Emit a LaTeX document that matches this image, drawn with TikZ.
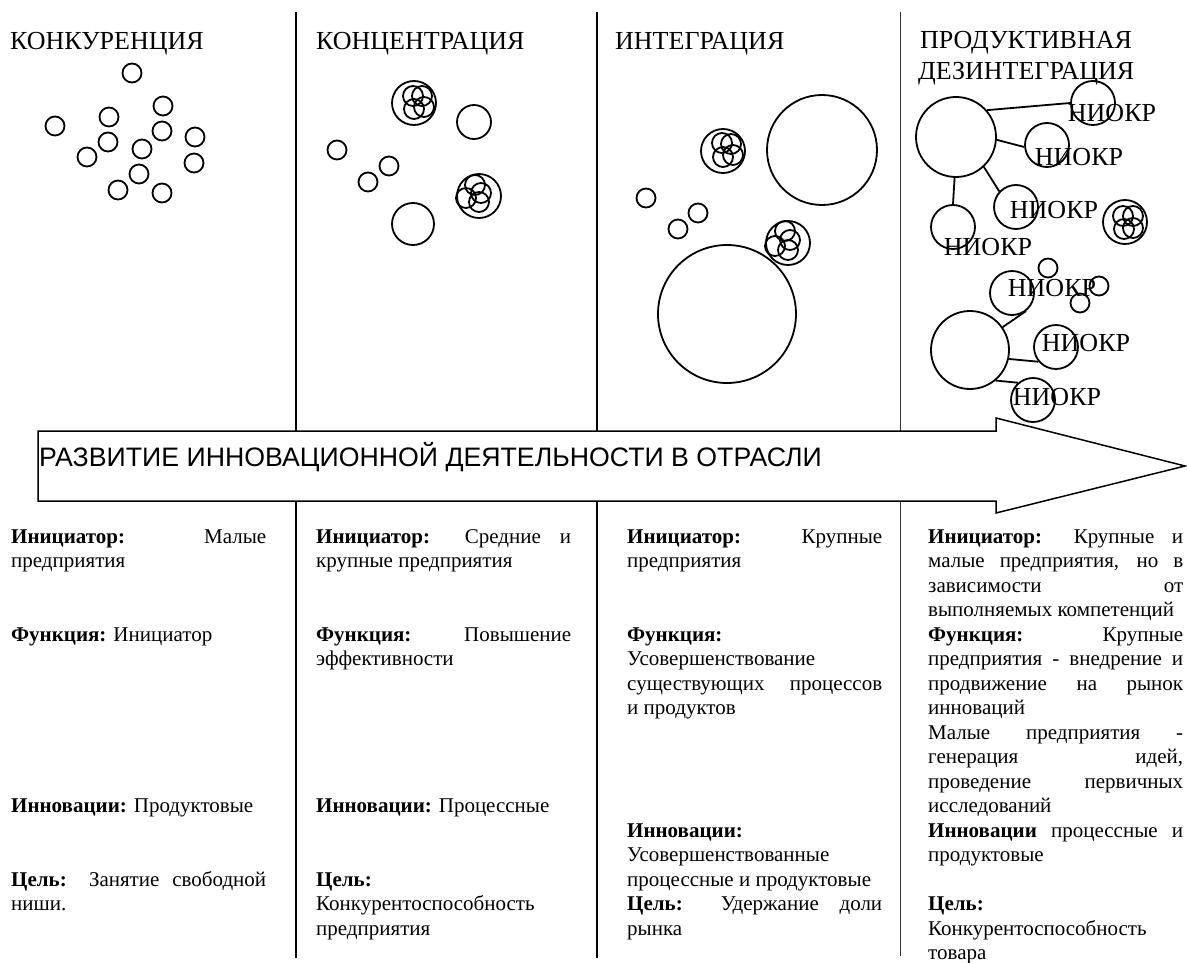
\documentclass[tikz,border=0pt]{standalone}
\usepackage{fontspec}
\setmainfont{Liberation Serif}
\newfontfamily\arrowfont{Liberation Sans}
\hyphenpenalty=10000
\exhyphenpenalty=10000
\tolerance=9999
\hbadness=10000
\tikzset{
	firm/.style={circle, draw, line width=1.8pt, inner sep=0pt, minimum size=#1},
	firm/.default=19pt,
	stage/.style={font=\fontsize{26}{31}\selectfont, inner sep=0pt, anchor=base west},
	rnd/.style={font=\fontsize{26}{31}\selectfont, inner sep=0pt},
	info/.style={text width=255pt, align=justify, inner sep=0pt, anchor=north west, font=\fontsize{21}{24.5}\selectfont},
	border/.style={line width=1.5pt},
}
% merged firm: outer ring with four small firms inside
\newcommand{\blob}[3]{%
	\node [firm=44pt] (#1) at #2 {};
	\foreach \dx/\dy [count=\k] in {#3} {\node [firm=20pt] (#1-\k) at ([shift={(\dx,\dy)}]#1) {};}
}

\begin{document}
\begin{tikzpicture}[x=1pt, y=-1pt]
		\useasboundingbox (0,0) rectangle (1187,963);
		% column borders
		\coordinate (s1t) at (296,12);
		\coordinate (s1b) at (296,958);
		\coordinate (s2t) at (597,12);
		\coordinate (s2b) at (597,958);
		\coordinate (s3t) at (900,12);
		\coordinate (s3b) at (900,956);
		\draw [border] (s1t) -- (s1b);
		\draw [border] (s2t) -- (s2b);
		\draw [line width=0.8pt, black!80] (s3t) -- (s3b);

		% stages
		\node [stage] (h1) at (10,50) {КОНКУРЕНЦИЯ};
		\node [stage] (h2) at (316,50) {КОНЦЕНТРАЦИЯ};
		\node [stage] (h3) at (615,50) {ИНТЕГРАЦИЯ};
		\node [stage] (h4) at (920,49) {ПРОДУКТИВНАЯ};
		\node [stage] (h4b) at (918,80) {ДЕЗИНТЕГРАЦИЯ};

		% competition
		\foreach \x/\y [count=\i] in {132/73, 163/106, 109/117, 55/126, 162/131, 108/142, 195/137, 142/149, 87/157, 194/163, 139/174, 118/190, 162/193}
			\node [firm] (konk\i) at (\x,\y) {};

		% concentration
		\blob{conc-a}{(414,103)}{-1/-7, 8/-7, 0/6, 10/4}
		\node [firm=34pt] (conc1) at (474,122) {};
		\node [firm] (conc2) at (337,150) {};
		\node [firm] (conc3) at (389,166) {};
		\node [firm] (conc4) at (368,182) {};
		\blob{conc-b}{(479,196)}{-4/-11, 2/-3, -13/2, 0/6}
		\node [firm=42pt] (conc5) at (413,224) {};

		% integration
		\blob{int-a}{(723,151)}{-1/-8, 8/-7, 0/6, 10/4}
		\node [firm=110pt] (int1) at (822,150) {};
		\node [firm] (int2) at (646,198) {};
		\node [firm] (int3) at (698,213) {};
		\node [firm] (int4) at (678,229) {};
		\blob{int-b}{(788,243)}{-3/-12, 2/-3, -13/3, 0/7}
		\node [firm=138pt] (int5) at (727,314) {};

		% productive disintegration
		\node [firm=80pt] (big-a) at (956,137) {};
		\node [firm=78pt] (big-b) at (970,350) {};
		\node [firm=44pt] (n1) at (1093,103) {};
		\node [firm=44pt] (n2) at (1047,145) {};
		\node [firm=44pt] (n3) at (1016,207) {};
		\node [firm=44pt] (n4) at (953,227) {};
		\node [firm=44pt] (n5) at (1012,293) {};
		\node [firm=44pt] (n6) at (1056,347) {};
		\node [firm=44pt] (n7) at (1033,400) {};
		\node [rnd] (t1) at ([shift={(19,10)}]n1) {НИОКР};
		\node [rnd] (t2) at ([shift={(32,12)}]n2) {НИОКР};
		\node [rnd] (t3) at ([shift={(38,3)}]n3) {НИОКР};
		\node [rnd] (t4) at ([shift={(35,20)}]n4) {НИОКР};
		\node [rnd] (t5) at ([shift={(40,-5)}]n5) {НИОКР};
		\node [rnd] (t6) at ([shift={(30,-4)}]n6) {НИОКР};
		\node [rnd] (t7) at ([shift={(24,-3)}]n7) {НИОКР};
		\draw [line width=1.8pt] (big-a.41) -- (n1.180);
		\draw [line width=1.8pt] (big-a.-4) -- (n2.185);
		\draw [line width=1.8pt] (big-a.-47) -- (n3.137);
		\draw [line width=1.8pt] (big-a.-92) -- (n4.90);
		\draw [line width=1.8pt] (big-b.35) -- (n5.-52);
		\draw [line width=1.8pt] (big-b.-13) -- (n6.-140);
		\draw [line width=1.8pt] (big-b.-50) -- (n7.131);
		\blob{dis-a}{(1125,222)}{-2/-6, 8/-6, -1/7, 8/6}
		\node [firm] (dis1) at (1048,268) {};
		\node [firm] (dis2) at (1099,286) {};
		\node [firm] (dis3) at (1080,303) {};

		% development arrow
		\draw [line width=1.5pt, fill=white] (38,431) -- (996,431) -- (996,418) -- (1185,466) -- (996,513) -- (996,501) -- (38,501) -- cycle;
		\node [anchor=base west, inner sep=0pt, font=\arrowfont\fontsize{26.7}{30}\selectfont] (trend) at (39,466) {РАЗВИТИЕ ИННОВАЦИОННОЙ ДЕЯТЕЛЬНОСТИ В ОТРАСЛИ};

		% column 1
		\node [info] (c1a) at (11,526) {\strut\textbf{Инициатор:} Малые\linebreak предприятия};
		\node [info] (c1b) at (11,624) {\strut\textbf{Функция:} Инициатор};
		\node [info] (c1c) at (11,795.5) {\strut\textbf{Инновации:} Продуктовые};
		\node [info] (c1d) at (11,869) {\strut\textbf{Цель:} Занятие свободной\linebreak ниши.};
		% column 2
		\node [info] (c2a) at (316,526) {\strut\textbf{Инициатор:} Средние и\linebreak крупные предприятия};
		\node [info] (c2b) at (316,624) {\strut\textbf{Функция:} Повышение\linebreak эффективности};
		\node [info] (c2c) at (316,795.5) {\strut\textbf{Инновации:} Процессные};
		\node [info] (c2d) at (316,869) {\strut\textbf{Цель:}\newline Конкурентоспособность\newline предприятия};
		% column 3
		\node [info] (c3a) at (627,526) {\strut\textbf{Инициатор:} Крупные\linebreak предприятия};
		\node [info] (c3b) at (627,624) {\strut\textbf{Функция:}\newline Усовершенствование\newline существующих процессов\linebreak и продуктов};
		\node [info] (c3c) at (627,820) {\strut\textbf{Инновации:}\newline Усовершенствованные\newline процессные и продуктовые};
		\node [info] (c3d) at (627,893.5) {\strut\textbf{Цель:} Удержание доли\linebreak рынка};
		% column 4
		\node [info] (c4a) at (928,526) {\strut\textbf{Инициатор:} Крупные и\linebreak малые предприятия, но в\linebreak зависимости от\linebreak выполняемых компетенций};
		\node [info] (c4b) at (928,624) {\strut\textbf{Функция:} Крупные\linebreak предприятия - внедрение и\linebreak продвижение на рынок\linebreak инноваций\par\strut Малые предприятия -\linebreak генерация идей,\linebreak проведение первичных\linebreak исследований};
		\node [info] (c4c) at (928,820) {\strut\textbf{Инновации} процессные и\linebreak продуктовые};
		\node [info] (c4d) at (928,893.5) {\strut\textbf{Цель:}\newline Конкурентоспособность\newline товара};
	\end{tikzpicture}
\end{document}
